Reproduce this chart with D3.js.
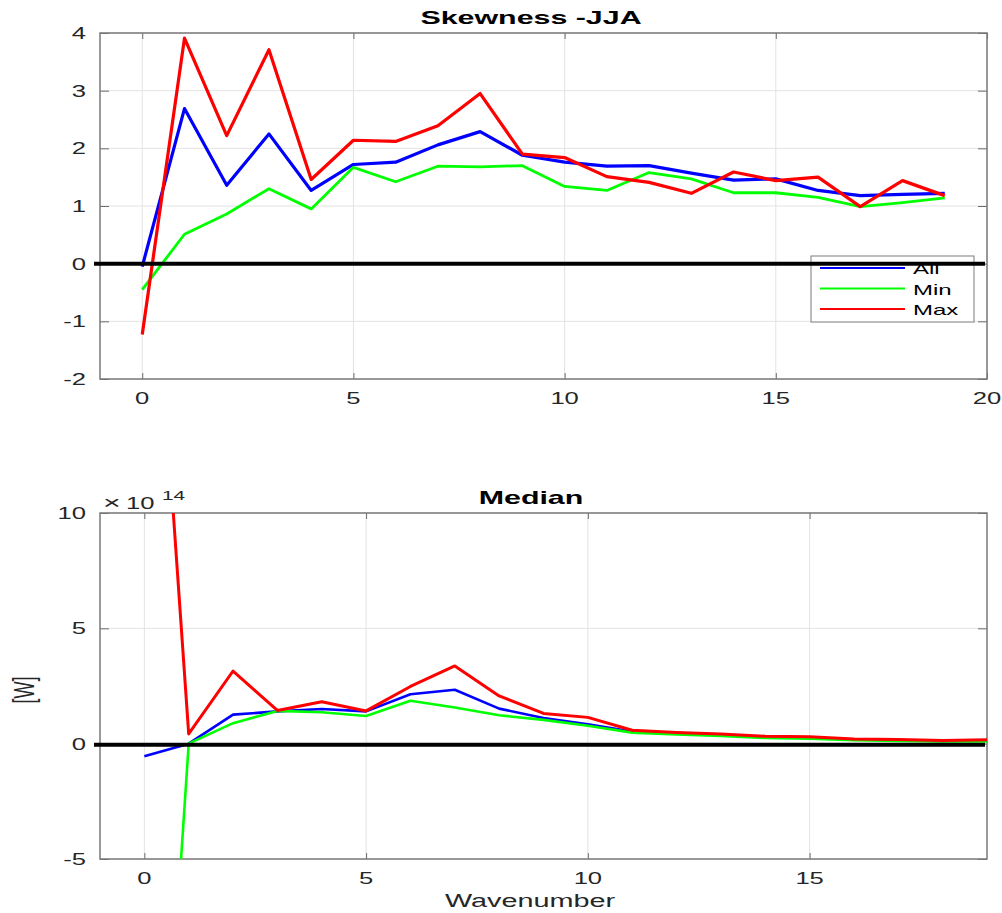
<!DOCTYPE html>
<meta charset="utf-8">
<style>
  body { margin: 0; background: #fff; }
  svg { display: block; font-family: "Liberation Sans", Arial, sans-serif; }
</style>
<body>
<svg id="fig" width="1002" height="913"></svg>
<script src="https://d3js.org/d3.v7.min.js"></script>
<script>
  // wavenumbers
  const wave = [0, 1, 2, 3, 4, 5, 6, 7, 8, 9, 10, 11, 12, 13, 14, 15, 16, 17, 18, 19];

  // skewness JJA
  const skewAll = [-0.05, 2.69, 1.36, 2.25, 1.27, 1.72, 1.76, 2.06, 2.29, 1.88, 1.76, 1.69, 1.70, 1.57, 1.45, 1.47, 1.27, 1.18, 1.20, 1.22];
  const skewMin = [-0.45, 0.51, 0.86, 1.30, 0.95, 1.67, 1.42, 1.69, 1.68, 1.70, 1.34, 1.27, 1.58, 1.47, 1.23, 1.23, 1.15, 0.99, 1.06, 1.14];
  const skewMax = [-1.23, 3.91, 2.22, 3.71, 1.46, 2.14, 2.12, 2.39, 2.95, 1.90, 1.84, 1.51, 1.41, 1.22, 1.59, 1.44, 1.50, 0.99, 1.44, 1.18];

  // median, units of 1e14 W
  const medAll = [-0.55, 0.0, 1.26, 1.40, 1.50, 1.40, 2.14, 2.34, 1.52, 1.11, 0.84, 0.53, 0.45, 0.38, 0.29, 0.27, 0.18, 0.15, 0.12, 0.14];
  const medMin = [-29, 0.0, 0.89, 1.42, 1.36, 1.20, 1.86, 1.57, 1.23, 1.03, 0.78, 0.48, 0.40, 0.33, 0.25, 0.22, 0.15, 0.12, 0.10, 0.10];
  const medMax = [28, 0.42, 3.15, 1.44, 1.82, 1.42, 2.48, 3.37, 2.07, 1.31, 1.14, 0.58, 0.48, 0.42, 0.32, 0.30, 0.20, 0.18, 0.14, 0.17];

  const legendNames = ["All", "Min", "Max"];
  const colors = ["#0000ff", "#00ff00", "#ff0000"];

  const SX = 1.6;   // the figure is stretched sideways
  const svg = d3.select("#fig");

  // put a horizontally stretched text at (x, y)
  function label(g, x, y, str, opts = {}) {
    const t = g.append("text")
      .attr("transform", `translate(${x},${y}) scale(${SX},1)` + (opts.rotate ? ` rotate(${opts.rotate})` : ""))
      .attr("text-anchor", opts.anchor || "middle")
      .attr("font-size", opts.size || 16)
      .attr("font-weight", opts.bold ? "bold" : "normal")
      .attr("fill", opts.color || "#262626")
      .text(str);
    return t;
  }

  function panel(cfg) {
    const x = d3.scaleLinear().domain(cfg.xDomain).range([100, 987]);
    const y = d3.scaleLinear().domain(cfg.yDomain).range([cfg.bottom, cfg.top]);
    const g = svg.append("g");
    const id = "clip" + cfg.top;

    g.append("clipPath").attr("id", id)
      .append("rect").attr("x", 100).attr("y", cfg.top)
      .attr("width", 887).attr("height", cfg.bottom - cfg.top);

    // grid
    g.append("g").selectAll("line").data(cfg.xTicks).join("line")
      .attr("x1", d => x(d)).attr("x2", d => x(d))
      .attr("y1", cfg.top).attr("y2", cfg.bottom)
      .attr("stroke", "#e3e3e3").attr("stroke-width", 1);
    g.append("g").selectAll("line").data(cfg.yTicks).join("line")
      .attr("x1", 100).attr("x2", 987)
      .attr("y1", d => y(d)).attr("y2", d => y(d))
      .attr("stroke", "#e3e3e3").attr("stroke-width", 1);

    // inward ticks on all four sides
    const tickStyle = a => a.selectAll("line").attr("stroke", "#6b6b6b");
    g.append("g").attr("transform", `translate(0,${cfg.bottom})`)
      .call(d3.axisBottom(x).tickValues(cfg.xTicks).tickSize(-6).tickFormat(""))
      .call(a => a.select(".domain").remove()).call(tickStyle);
    g.append("g").attr("transform", `translate(0,${cfg.top})`)
      .call(d3.axisTop(x).tickValues(cfg.xTicks).tickSize(-6).tickFormat(""))
      .call(a => a.select(".domain").remove()).call(tickStyle);
    g.append("g").attr("transform", "translate(100,0)")
      .call(d3.axisLeft(y).tickValues(cfg.yTicks).tickSize(-9).tickFormat(""))
      .call(a => a.select(".domain").remove()).call(tickStyle);
    g.append("g").attr("transform", "translate(987,0)")
      .call(d3.axisRight(y).tickValues(cfg.yTicks).tickSize(-9).tickFormat(""))
      .call(a => a.select(".domain").remove()).call(tickStyle);

    // tick labels
    cfg.xTicks.forEach(t => label(g, x(t), cfg.bottom + 25, t));
    cfg.yTicks.forEach(t => label(g, 86, y(t) + 6, t, { anchor: "end" }));

    // box
    g.append("rect").attr("x", 100).attr("y", cfg.top)
      .attr("width", 887).attr("height", cfg.bottom - cfg.top)
      .attr("fill", "none").attr("stroke", "#7a7a7a").attr("stroke-width", 1.5);

    // series
    const line = d3.line().x((d, i) => x(wave[i])).y(d => y(d));
    cfg.series.forEach((s, k) => {
      g.append("path").datum(s)
        .attr("clip-path", `url(#${id})`)
        .attr("d", line)
        .attr("fill", "none")
        .attr("stroke", colors[k])
        .attr("stroke-width", cfg.widths[k])
        .attr("stroke-linejoin", "round");
    });

    // title
    label(g, 531, cfg.top - 9, cfg.title, { bold: true, size: 19, color: "#000" });

    return { g, x, y };
  }

  const skewPanel = panel({
    top: 33, bottom: 379,
    xDomain: [-1, 20], yDomain: [-2, 4],
    xTicks: [0, 5, 10, 15, 20], yTicks: [-2, -1, 0, 1, 2, 3, 4],
    series: [skewAll, skewMin, skewMax], widths: [3.2, 2.8, 3.2],
    title: "Skewness -JJA"
  });

  // legend (sits under the zero line)
  const lg = skewPanel.g.append("g");
  lg.append("rect").attr("x", 811).attr("y", 256).attr("width", 163).attr("height", 66)
    .attr("fill", "#fff").attr("stroke", "#7a7a7a").attr("stroke-width", 1);
  legendNames.forEach((n, i) => {
    const ly = 268 + i * 20.5;
    lg.append("line").attr("x1", 820).attr("x2", 905).attr("y1", ly).attr("y2", ly)
      .attr("stroke", colors[i]).attr("stroke-width", 2);
    label(lg, 913, ly + 6, n, { anchor: "start", size: 15, color: "#000" });
  });

  skewPanel.g.append("line")
    .attr("x1", 94).attr("x2", 985)
    .attr("y1", skewPanel.y(0)).attr("y2", skewPanel.y(0))
    .attr("stroke", "#000").attr("stroke-width", 4);

  const medPanel = panel({
    top: 513, bottom: 859,
    xDomain: [-1, 19], yDomain: [-5, 10],
    xTicks: [0, 5, 10, 15], yTicks: [-5, 0, 5, 10],
    series: [medAll, medMin, medMax], widths: [2.6, 2.6, 3],
    title: "Median"
  });

  medPanel.g.append("line")
    .attr("x1", 94).attr("x2", 985)
    .attr("y1", medPanel.y(0) + 1).attr("y2", medPanel.y(0) + 1)
    .attr("stroke", "#000").attr("stroke-width", 4);

  // exponent label
  label(medPanel.g, 103, 509, "×", { anchor: "start", size: 19 });
  label(medPanel.g, 126, 509, "10", { anchor: "start", size: 16 });
  label(medPanel.g, 162, 500, "14", { anchor: "start", size: 13 });

  // axis labels
  label(medPanel.g, 530, 907, "Wavenumber", { size: 18 });
  label(medPanel.g, 34, 690, "[W]", { size: 18, rotate: -90 });
</script>
</body>
